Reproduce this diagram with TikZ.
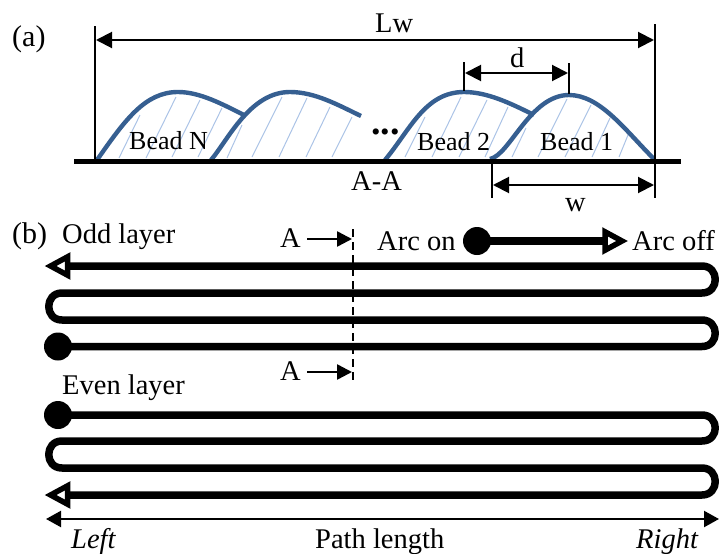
\documentclass[tikz,border=0pt]{standalone}
\usepackage{fontspec}
\setmainfont{Liberation Serif}
\usetikzlibrary{arrows.meta}
\definecolor{beadblue}{HTML}{365F91}
\definecolor{hatchblue}{HTML}{ABC3E6}
\tikzset{
  lbl/.style={anchor=base west,inner sep=0pt,font=\fontsize{28.5}{30}\selectfont},
  beadlbl/.style={anchor=base west,inner sep=0pt,font=\fontsize{26}{28}\selectfont},
  panel/.style={anchor=base west,inner sep=0pt,font=\fontsize{30}{32}\selectfont},
  baseln/.style={line width=5pt},
  guide/.style={line width=1.6pt},
  dimline/.style={line width=2pt,{Triangle[length=16pt,width=16pt]}-{Triangle[length=16pt,width=16pt]}},
  sectarrow/.style={line width=2.5pt,-{Triangle[length=15pt,width=15pt]}},
  bead/.style={line width=4.4pt,beadblue,line join=round},
  hatchln/.style={line width=1pt,hatchblue},
  track/.style={line width=7.5pt,line join=round},
  opentri/.pic={\draw[line width=5.5pt,fill=white,line join=miter,miter limit=10] (0,0) -- (-17,-9.2) -- (-17,9.2) -- cycle;},
  startdot/.style={circle,fill=black,draw=none,minimum size=28pt,inner sep=0pt},
  sectcut/.style={line width=1.4pt,dash pattern=on 8pt off 5pt},
}
\begin{document}
\begin{tikzpicture}[x=1pt,y=-1pt]
\useasboundingbox (0,0) rectangle (720,554);
% ---------- hatching
\foreach \xa/\ya/\xb/\yb in {
 119/158/140/115,146/158/176/97,172/157/200/100,198/157/222/108,
 227/158/242/125,252/157/282/97,279/157/307/98,306/157/330/107,332/157/352/117,
 405/157/425/117,432/157/461/97,459/157/487/100,485/157/508/107,
 512/157/526/128,538/157/567/99,565/157/591/105,592/157/610/118,619/157/628/135}
  \draw[hatchln] (\xa,\ya) -- (\xb,\yb);
% ---------- beads
\draw[bead] (97,160) .. controls (125,120) and (145,92) .. (178,92) .. controls (200,92) and (222,104) .. (246,116);
\draw[bead] (211,160) .. controls (228,140) and (250,92) .. (290,92) .. controls (315,92) and (338,105) .. (361,116);
\draw[bead] (385,160) .. controls (410,130) and (425,92) .. (464,92) .. controls (487,92) and (510,103) .. (534,115);
\draw[bead] (490,159) .. controls (510,155) and (530,95) .. (569,95) .. controls (600,95) and (625,130) .. (654,159);
% ---------- base line
\coordinate (baseL) at (74,161);
\coordinate (baseR) at (681,161);
\draw[baseln] (baseL) -- (baseR);
% ---------- guides
\coordinate (g1t) at (95,26);   \coordinate (g1b) at (95,160);
\coordinate (g2t) at (655,24);  \coordinate (g2b) at (655,198);
\coordinate (g3t) at (464,62);  \coordinate (g3b) at (464,91);
\coordinate (g4t) at (569,63);  \coordinate (g4b) at (569,94);
\coordinate (g5t) at (492,161); \coordinate (g5b) at (492,198);
\draw[guide] (g1t) -- (g1b);
\draw[guide] (g2t) -- (g2b);
\draw[guide] (g3t) -- (g3b);
\draw[guide] (g4t) -- (g4b);
\draw[guide] (g5t) -- (g5b);
% ---------- dimensions
\coordinate (lwL) at (96,40);  \coordinate (lwR) at (654,40);
\coordinate (dL) at (465,73);  \coordinate (dR) at (568,73);
\coordinate (wL) at (493,185); \coordinate (wR) at (654,185);
\draw[dimline] (lwL) -- (lwR);
\draw[dimline] (dL) -- (dR);
\draw[dimline] (wL) -- (wR);
% ---------- labels (a)
\node[panel] (pa) at (12,46) {(a)};
\node[lbl] (lw) at (375,32) {Lw};
\node[lbl] (d) at (510,67) {d};
\node[lbl] (w) at (565,211) {w};
\node[beadlbl] (beadN) at (129,149) {Bead N};
\node[beadlbl] (bead2) at (417,150) {Bead 2};
\node[beadlbl] (bead1) at (540,150) {Bead 1};
\node[anchor=base west,inner sep=0pt,font=\fontsize{38}{40}\selectfont\bfseries] (dots) at (371,134) {...};
\node[lbl] (aa) at (351,190) {A-A};
% ---------- section line
\coordinate (cutT) at (353,229);
\coordinate (cutB) at (353,380);
\draw[sectcut] (cutT) -- (cutB);
\node[panel] (pb) at (12,243) {(b)};
\node[lbl] (odd) at (62,243) {Odd layer};
\node[lbl] (a1) at (280,247) {A};
\node[lbl] (a2) at (280,380) {A};
\coordinate (a1tip) at (352,239);
\coordinate (a2tip) at (352,372);
\coordinate (a1tail) at (307,239);
\coordinate (a2tail) at (307,372);
\draw[sectarrow] (a1tail) -- (a1tip);
\draw[sectarrow] (a2tail) -- (a2tip);
% ---------- legend
\node[lbl] (arcon) at (377,250) {Arc on};
\node[lbl] (arcoff) at (632,250) {Arc off};
\node[startdot] (legdot) at (477,241) {};
\coordinate (legend) at (606,241);
\draw[track] (legdot.center) -- (legend);
\pic at (622,241) {opentri};
% ---------- odd layer track
\node[startdot] (odddot) at (58,346.5) {};
\coordinate (oddend) at (66,266);
\draw[track] (odddot.center) -- (702,346.5)
  .. controls (719.7,346.5) and (719.7,320) .. (702,320)
  -- (62,320)
  .. controls (44.3,320) and (44.3,293) .. (62,293)
  -- (702,293)
  .. controls (719.7,293) and (719.7,266) .. (702,266)
  -- (oddend);
\pic[rotate=180] at (50.6,266) {opentri};
% ---------- even layer track
\node[lbl] (even) at (62,394) {Even layer};
\node[startdot] (evendot) at (58,415) {};
\coordinate (evenend) at (66,495);
\draw[track] (evendot.center) -- (702,415)
  .. controls (719.7,415) and (719.7,441) .. (702,441)
  -- (62,441)
  .. controls (44.3,441) and (44.3,468) .. (62,468)
  -- (702,468)
  .. controls (719.7,468) and (719.7,495) .. (702,495)
  -- (evenend);
\pic[rotate=180] at (50.6,495) {opentri};
% ---------- path length
\coordinate (plL) at (46,519);
\coordinate (plR) at (719,519);
\draw[line width=2.2pt,{Triangle[length=15pt,width=16pt]}-{Triangle[length=15pt,width=16pt]}] (plL) -- (plR);
\node[lbl,font=\fontsize{28.5}{30}\selectfont\itshape] (left) at (71,548) {Left};
\node[lbl] (path) at (315,548) {Path length};
\node[lbl,font=\fontsize{28.5}{30}\selectfont\itshape] (right) at (636,548) {Right};
\end{tikzpicture}
\end{document}
